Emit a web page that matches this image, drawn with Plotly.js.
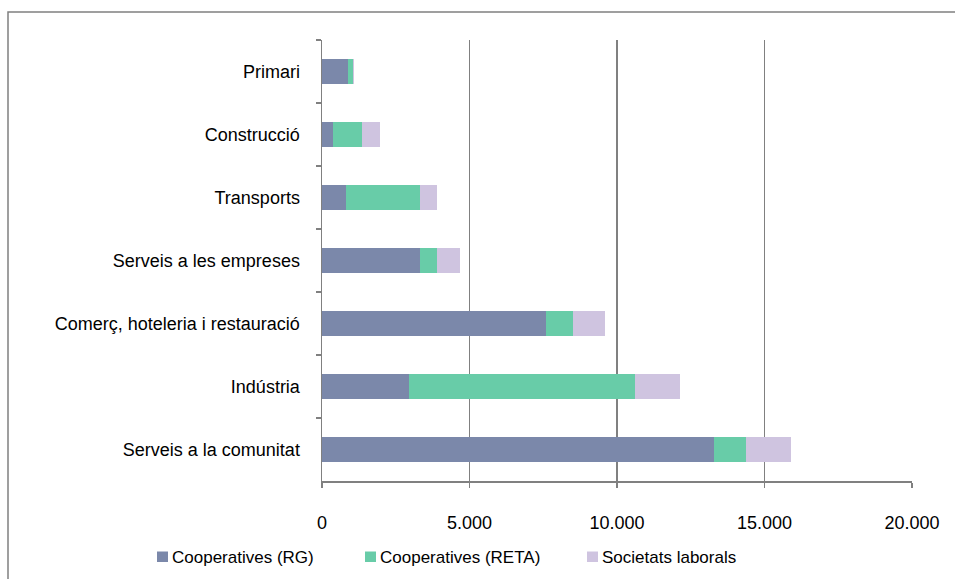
<!DOCTYPE html>
<html>
<head>
<meta charset="utf-8">
<script src="https://cdn.plot.ly/plotly-3.0.1.min.js"></script>
<style>
html,body{margin:0;padding:0;background:#fff;}
#chart{width:955px;height:579px;}
</style>
</head>
<body>
<div id="chart"></div>
<script>
const categories = ["Primari", "Construcció", "Transports", "Serveis a les empreses", "Comerç, hoteleria i restauració", "Indústria", "Serveis a la comunitat"];
const cooperativesRG = [880, 370, 810, 3320, 7590, 2950, 13290];
const cooperativesRETA = [170, 985, 2510, 580, 915, 7660, 1085];
const societatsLaborals = [45, 610, 590, 780, 1100, 1540, 1515];
const seriesNames = ["Cooperatives (RG)", "Cooperatives (RETA)", "Societats laborals"];
const xTickValues = [0, 5000, 10000, 15000, 20000];
const xTickLabels = ["0", "5.000", "10.000", "15.000", "20.000"];

const colors = ["#7b88aa", "#68cca8", "#cfc4e0"];
const values = [cooperativesRG, cooperativesRETA, societatsLaborals];

// plot area in pixels
const PL = 322, PR = 912, PT = 40, PB = 481;
const px2x = p => (p - PL) / (PR - PL);
const px2y = p => (PB - p) / (PB - PT);

const traces = values.map((v, i) => ({
  type: "bar",
  orientation: "h",
  name: seriesNames[i],
  x: v,
  y: categories,
  marker: {color: colors[i], line: {width: 0}},
  hoverinfo: "x+y+name",
  showlegend: false
}));

const font = {family: "Liberation Sans, Arial, sans-serif", size: 18, color: "#000"};

// custom legend (positions in pixels)
const legendSquareX = [157, 365, 587];
const shapes = [{
  type: "rect",
  xref: "paper", yref: "paper",
  x0: px2x(8), x1: px2x(965),
  y0: px2y(590), y1: px2y(12),
  line: {color: "#808080", width: 1.5},
  fillcolor: "rgba(0,0,0,0)",
  layer: "below"
}];
const annotations = [];
seriesNames.forEach((name, i) => {
  const sx = legendSquareX[i];
  shapes.push({
    type: "rect", xref: "paper", yref: "paper",
    x0: px2x(sx), x1: px2x(sx + 11),
    y0: px2y(562), y1: px2y(551.5),
    line: {width: 0}, fillcolor: colors[i]
  });
  annotations.push({
    xref: "paper", yref: "paper",
    x: px2x(sx + 13), y: px2y(557),
    xanchor: "left", yanchor: "middle",
    text: name, showarrow: false,
    font: {family: "Liberation Sans, Arial, sans-serif", size: 17, color: "#000"}
  });
});

const layout = {
  width: 955, height: 579,
  margin: {l: PL, r: 955 - PR, t: PT, b: 579 - PB},
  barmode: "stack",
  bargap: 0.6,
  paper_bgcolor: "#fff",
  plot_bgcolor: "#fff",
  font: font,
  showlegend: false,
  xaxis: {
    range: [0, 20000],
    tickvals: xTickValues,
    ticktext: xTickLabels,
    showgrid: true,
    gridcolor: "#808080",
    gridwidth: 1.5,
    zeroline: false,
    showline: true,
    linecolor: "#808080",
    linewidth: 1.5,
    ticks: "outside",
    ticklen: 5,
    tickcolor: "#808080",
    tickwidth: 1.5,
    ticklabelstandoff: 20,
    tickfont: font,
    fixedrange: true
  },
  yaxis: {
    type: "category",
    autorange: "reversed",
    showgrid: false,
    zeroline: false,
    showline: true,
    linecolor: "#808080",
    linewidth: 1.5,
    ticks: "outside",
    tickson: "boundaries",
    ticklen: 5,
    tickcolor: "#808080",
    tickwidth: 1.5,
    ticklabelstandoff: 17,
    tickfont: font,
    fixedrange: true
  },
  shapes: shapes,
  annotations: annotations
};

Plotly.newPlot("chart", traces, layout, {displayModeBar: false, staticPlot: true});
</script>
</body>
</html>
